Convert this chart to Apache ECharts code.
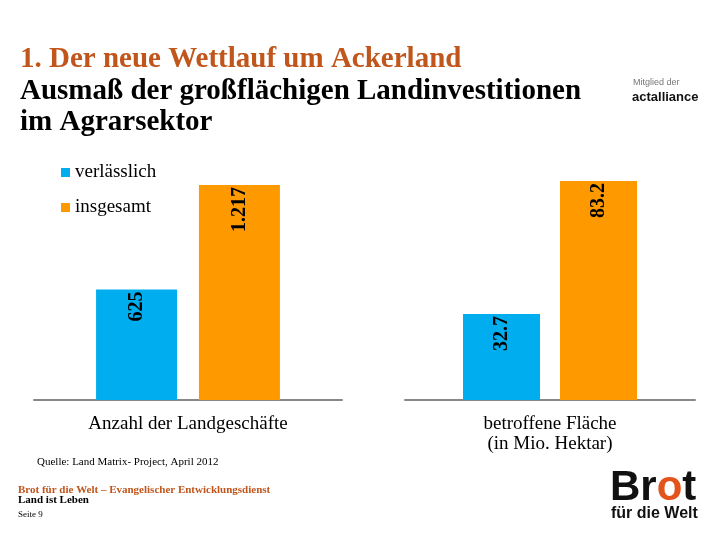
<!DOCTYPE html>
<html>
<head>
<meta charset="utf-8">
<script src="https://cdn.jsdelivr.net/npm/echarts@6/dist/echarts.min.js"></script>
<style>html,body{margin:0;padding:0;background:#fff;}#c{width:720px;height:540px;}</style>
</head>
<body>
<div id="c"></div>
<script>
const categories = ['Anzahl der Landgeschäfte', 'betroffene Fläche\n(in Mio. Hektar)'];
const seriesNames = ['verlässlich', 'insgesamt'];
const verlaesslich = [625, 32.7];
const insgesamt = [1217, 83.2];

const BLUE = '#00aeef', ORANGE = '#ff9900', BROWN = '#c0561c';
const SERIF = 'Liberation Serif', SANS = 'Liberation Sans';

function fmt(v) {
  if (v >= 1000) return Math.floor(v / 1000) + '.' + String(v % 1000).padStart(3, '0');
  return String(v);
}

const chart = echarts.init(document.getElementById('c'), null, {renderer: 'canvas'});

const grids = [
  {left: 34, width: 308, top: 185, bottom: 140},
  {left: 405, width: 290, top: 181, bottom: 140}
];
const barWidths = [81, 77];
const barGaps = ['27%', '26%'];

const xAxes = grids.map((g, i) => ({
  type: 'category', gridIndex: i, data: [categories[i]],
  axisLine: {lineStyle: {color: '#888', width: 2}},
  axisTick: {show: false},
  axisLabel: {color: '#000', fontFamily: SERIF, fontSize: 19, lineHeight: 20, margin: 14}
}));
const yAxes = grids.map((g, i) => ({
  type: 'value', gridIndex: i, min: 0, max: 'dataMax', show: false, splitLine: {show: false}
}));

const labelCfg = {
  show: true, position: 'insideTop', rotate: 90, align: 'right', verticalAlign: 'middle',
  distance: 2, color: '#000', fontFamily: SERIF, fontWeight: 'bold', fontSize: 20,
  formatter: p => fmt(p.value)
};

const series = [];
[0, 1].forEach(i => {
  series.push({name: seriesNames[0], type: 'bar', xAxisIndex: i, yAxisIndex: i,
    data: [verlaesslich[i]], itemStyle: {color: BLUE}, barWidth: barWidths[i], barGap: barGaps[i],
    label: labelCfg});
  series.push({name: seriesNames[1], type: 'bar', xAxisIndex: i, yAxisIndex: i,
    data: [insgesamt[i]], itemStyle: {color: ORANGE}, barWidth: barWidths[i], barGap: barGaps[i],
    label: labelCfg});
});

chart.setOption({
  animation: false,
  backgroundColor: '#fff',
  title: {
    text: '1. Der neue Wettlauf um Ackerland',
    subtext: 'Ausmaß der großflächigen Landinvestitionen\nim Agrarsektor',
    left: 15, top: 44, itemGap: 1, padding: [0, 5],
    textStyle: {color: BROWN, fontFamily: SERIF, fontWeight: 'bold', fontSize: 29, lineHeight: 31},
    subtextStyle: {color: '#000', fontFamily: SERIF, fontWeight: 'bold', fontSize: 29, lineHeight: 31}
  },
  legend: {
    data: seriesNames, orient: 'vertical', left: 56, top: 158,
    itemWidth: 9, itemHeight: 9, itemGap: 16, icon: 'rect',
    textStyle: {color: '#000', fontFamily: SERIF, fontSize: 19}
  },
  grid: grids,
  xAxis: xAxes,
  yAxis: yAxes,
  series: series,
  graphic: [
    {type: 'text', left: 37, top: 457, style: {text: 'Quelle: Land Matrix- Project, April 2012', fill: '#000', font: '11px "Liberation Serif"'}},
    {type: 'text', left: 18, top: 485, style: {text: 'Brot für die Welt – Evangelischer Entwicklungsdienst', fill: BROWN, font: 'bold 11px "Liberation Serif"'}},
    {type: 'text', left: 18, top: 495, style: {text: 'Land ist Leben', fill: '#000', font: 'bold 11px "Liberation Serif"'}},
    {type: 'text', left: 18, top: 510, style: {text: 'Seite 9', fill: '#000', font: '9px "Liberation Serif"'}},
    {type: 'text', left: 633, top: 78, style: {text: 'Mitglied der', fill: '#777', font: '9px "Liberation Sans"'}},
    {type: 'text', left: 632, top: 91, style: {text: 'actalliance', fill: '#111', font: 'bold 13px "Liberation Sans"'}},
    {type: 'text', left: 610, top: 467, style: {
      text: '{b|Br}{o|o}{b|t}',
      rich: {
        b: {fill: '#111', fontFamily: SANS, fontWeight: 'bold', fontSize: 42},
        o: {fill: '#e3541c', fontFamily: SANS, fontWeight: 'bold', fontSize: 42}
      }}},
    {type: 'text', left: 611, top: 506, style: {text: 'für die Welt', fill: '#111', font: 'bold 16px "Liberation Sans"'}}
  ]
});
</script>
</body>
</html>
